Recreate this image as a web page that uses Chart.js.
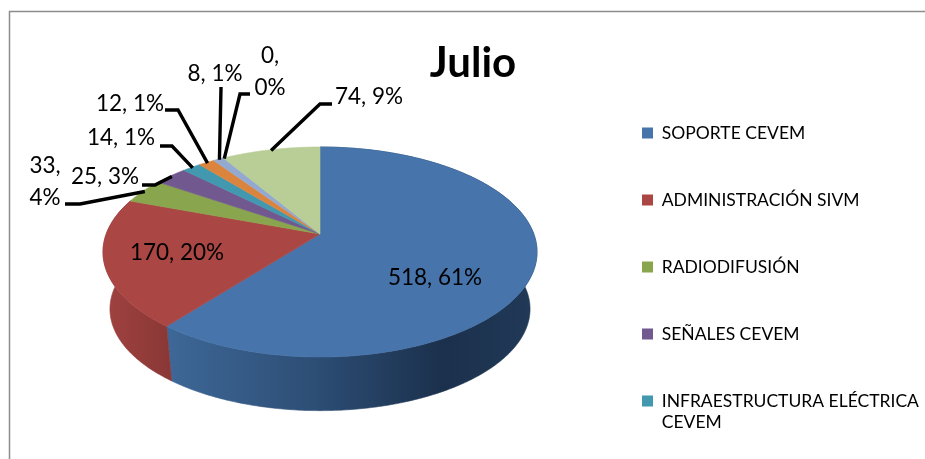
<!DOCTYPE html>
<html>
<head>
<meta charset="utf-8">
<script src="https://cdn.jsdelivr.net/npm/chart.js@4/dist/chart.umd.min.js"></script>
<style>
  html, body { margin: 0; padding: 0; background: #fff; overflow: hidden; }
  canvas { display: block; }
</style>
</head>
<body>
<canvas id="pie-chart" width="925" height="459"></canvas>
<script>
// only the first five names are visible in the picture, the legend is cut off
const categories = [
  'SOPORTE CEVEM',
  'ADMINISTRACIÓN SIVM',
  'RADIODIFUSIÓN',
  'SEÑALES CEVEM',
  ['INFRAESTRUCTURA ELÉCTRICA', 'CEVEM'],
  '', '', '', ''
]
const values = [518, 170, 33, 25, 14, 12, 8, 0, 74]
const percents = [61, 20, 4, 3, 1, 1, 1, 0, 9]
const colors = ['#4674AB', '#AA4643', '#89A54E', '#71588F', '#4198AF', '#DB843D', '#93A9CF', '#D19392', '#B9CD96']
const chartTitle = 'Julio'

// where each label sits; knee is the bend of the leader line, null = inside the slice
const labelPlaces = [
  { x: 435, y: 278, lines: 1, knee: null },
  { x: 177, y: 253, lines: 1, knee: null },
  { x: 45, y: 182, lines: 2, start: [65, 204], knee: [80, 204] },
  { x: 105, y: 177, lines: 1, start: [142, 185], knee: [155, 185] },
  { x: 121, y: 138, lines: 1, start: [160, 146], knee: [172, 146] },
  { x: 130, y: 104, lines: 1, start: [165, 110], knee: [178, 110] },
  { x: 215, y: 74, lines: 1, start: [221, 87], knee: [221, 88] },
  { x: 270, y: 72, lines: 2, start: [250, 94], knee: [240, 94] },
  { x: 369, y: 97, lines: 1, start: [332, 104], knee: [320, 104] }
]

/* ---- tilted pie: circle angle -> point on the perspective ellipse ---- */
function project(arc, angle, radius, lower) {
  const s = arc.outerRadius / 229.5
  const cy = arc.y + 4.5
  const u = Math.cos(angle) * radius
  const v = Math.sin(angle) * radius
  const w = 1 - 0.1714 * v
  const x = 213.8 * s * u / w
  const y = 18 * s + (105 * s * v - 18 * s) / w
  if (lower) return [arc.x + x * 0.968, cy + 18 * s + 57 * s + (y - 18 * s) * 0.968]
  return [arc.x + x, cy + y]
}

function rimPoints(arc, lower) {
  const pts = []
  const steps = Math.max(2, Math.ceil((arc.endAngle - arc.startAngle) * 90))
  for (let i = 0; i <= steps; i++) {
    const a = arc.startAngle + (arc.endAngle - arc.startAngle) * i / steps
    pts.push(project(arc, a, 1, lower))
  }
  return pts
}

function fillPath(ctx, pts, fill) {
  ctx.beginPath()
  pts.forEach((p, i) => (i ? ctx.lineTo(p[0], p[1]) : ctx.moveTo(p[0], p[1])))
  ctx.closePath()
  ctx.fillStyle = fill
  ctx.strokeStyle = fill
  ctx.lineWidth = 0.6
  ctx.fill()
  ctx.stroke()
}

function sideFill(ctx, index) {
  const g = ctx.createLinearGradient(index === 0 ? 165 : 103, 0, index === 0 ? 537 : 168, 0)
  if (index === 0) {
    g.addColorStop(0, '#3E6898')
    g.addColorStop(0.4, '#2D4E75')
    g.addColorStop(0.75, '#1B304C')
    g.addColorStop(1, '#213A58')
  } else {
    g.addColorStop(0, '#A04240')
    g.addColorStop(1, '#8A3836')
  }
  return g
}

const tiltedPie = {
  id: 'tiltedPie',
  // legend sits lower than the layout would put it
  afterLayout(chart) {
    chart.legend.left = 592.5
    chart.legend.top = 74.75
  },
  beforeDatasetsDraw(chart) {
    const ctx = chart.ctx
    const arcs = chart.getDatasetMeta(0).data

    ctx.save()
    ctx.strokeStyle = '#8C8C8C'
    ctx.lineWidth = 1.5
    ctx.strokeRect(9.5, 11.5, 1200, 800)
    ctx.restore()

    // only the two front slices show their wall
    ctx.save()
    arcs.slice(0, 2).forEach((arc, i) => {
      const top = rimPoints(arc, false)
      const bottom = rimPoints(arc, true).reverse()
      fillPath(ctx, top.concat(bottom), sideFill(ctx, i))
    })
    arcs.forEach((arc, i) => {
      if (!values[i]) return
      fillPath(ctx, [[arc.x, arc.y + 4.5]].concat(rimPoints(arc, false)), colors[i])
    })
    ctx.restore()

    ctx.save()
    ctx.fillStyle = '#000'
    ctx.textAlign = 'center'
    ctx.textBaseline = 'middle'
    ctx.font = 'bold 42px Lato'
    ctx.fillText(chartTitle, 473, 63)

    ctx.font = '22.5px Lato'
    arcs.forEach((arc, i) => {
      const place = labelPlaces[i]
      if (place.lines === 2) {
        ctx.fillText(values[i] + ',', place.x, place.y - 16)
        ctx.fillText(percents[i] + '%', place.x, place.y + 16)
      } else {
        ctx.fillText(values[i] + ', ' + percents[i] + '%', place.x, place.y)
      }
      if (!place.knee) return
      const mid = (arc.startAngle + arc.endAngle) / 2
      const tip = project(arc, mid, 0.99, false)
      ctx.beginPath()
      ctx.moveTo(place.start[0], place.start[1])
      ctx.lineTo(place.knee[0], place.knee[1])
      ctx.lineTo(tip[0], tip[1])
      ctx.lineWidth = 3.4
      ctx.strokeStyle = '#000'
      ctx.stroke()
    })
    ctx.restore()
    return false
  }
}

new Chart(document.getElementById('pie-chart'), {
  type: 'pie',
  data: {
    labels: categories,
    datasets: [{ data: values, backgroundColor: colors, borderWidth: 0 }]
  },
  options: {
    responsive: false,
    animation: false,
    // negative bottom keeps the tall legend in a single column
    layout: { padding: { left: 48, bottom: -9 } },
    plugins: {
      title: { display: false },
      tooltip: { enabled: false },
      legend: {
        position: 'right',
        align: 'start',
        maxWidth: 333,
        labels: {
          color: '#000',
          font: { family: 'Lato', size: 17.5 },
          boxWidth: 11,
          boxHeight: 11,
          padding: 49.5,
          filter: (item) => item.text !== ''
        }
      }
    }
  },
  plugins: [tiltedPie]
})
</script>
</body>
</html>
